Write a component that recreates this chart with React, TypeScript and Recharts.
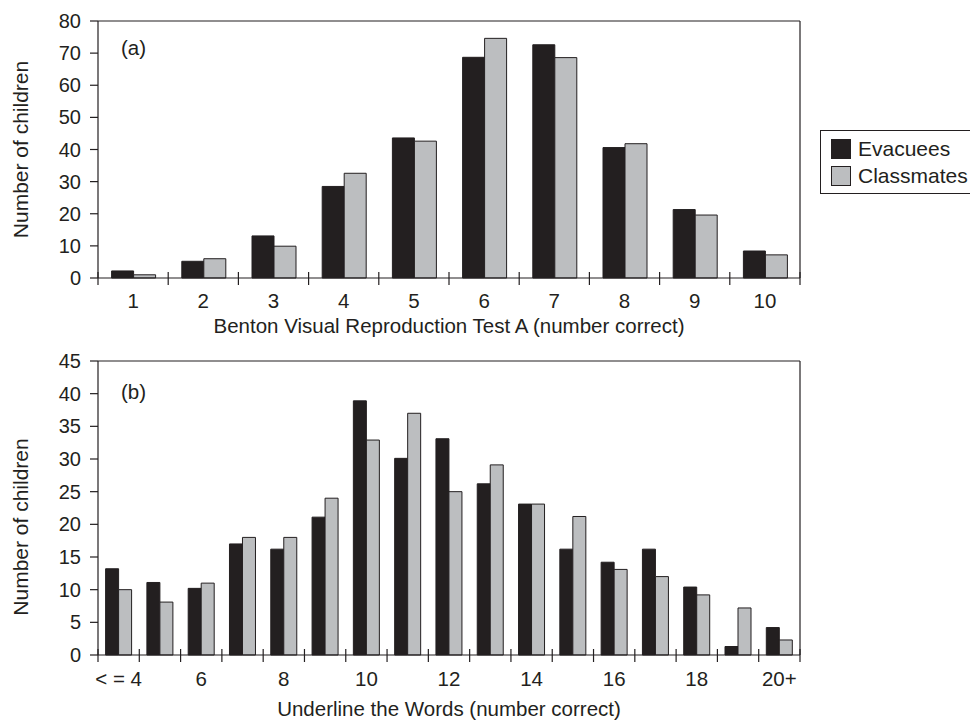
import React from "react";
import { BarChart, Bar, XAxis, YAxis, Legend } from "recharts";

const FONT = '"Liberation Sans", Arial, Helvetica, sans-serif';
const INK = "#231f20";
const GRAY = "#bcbec0";

// Panel (a): Benton Visual Reproduction Test A
const bentonCategories = ["1", "2", "3", "4", "5", "6", "7", "8", "9", "10"];
const bentonEvacuees = [2.2, 5.2, 13.1, 28.5, 43.6, 68.7, 72.6, 40.6, 21.3, 8.4];
const bentonClassmates = [1.0, 6.0, 9.9, 32.6, 42.6, 74.6, 68.6, 41.8, 19.6, 7.2];
const bentonYTicks = [0, 10, 20, 30, 40, 50, 60, 70, 80];

// Panel (b): Underline the Words
const wordsCategories = ["< = 4", "5", "6", "7", "8", "9", "10", "11", "12", "13", "14", "15", "16", "17", "18", "19", "20+"];
const wordsEvacuees = [13.2, 11.1, 10.2, 17.0, 16.2, 21.1, 38.9, 30.1, 33.1, 26.2, 23.1, 16.2, 14.2, 16.2, 10.4, 1.3, 4.2];
const wordsClassmates = [10.0, 8.1, 11.0, 18.0, 18.0, 24.0, 32.9, 37.0, 25.0, 29.1, 23.1, 21.2, 13.1, 12.0, 9.2, 7.2, 2.3];
const wordsYTicks = [0, 5, 10, 15, 20, 25, 30, 35, 40, 45];

const seriesNames = ["Evacuees", "Classmates"];
const seriesColors = [INK, GRAY];

// slot = position of the category on the boundary axis (category i spans slot i .. i+1)
const bentonData = bentonCategories.map((c, i) => ({ cat: c, slot: i, evac: bentonEvacuees[i], cls: bentonClassmates[i] }));
const wordsData = wordsCategories.map((c, i) => ({ cat: c, slot: i, evac: wordsEvacuees[i], cls: wordsClassmates[i] }));

// boundaries at integers, labels at half-steps
const makeTicks = (n: number) => {
  const t: number[] = [];
  for (let i = 0; i <= n; i++) {
    t.push(i);
    if (i < n) t.push(i + 0.5);
  }
  return t;
};

function BoundaryTick(props: any) {
  const { x, y, payload, labels, every, labelDy } = props;
  const v = payload.value;
  if (Number.isInteger(v)) {
    return <line x1={x} x2={x} y1={y - 6} y2={y + 7} stroke={INK} strokeWidth={1.2} />;
  }
  const idx = Math.floor(v);
  if (idx % every !== 0) return <g />;
  return (
    <text x={x} y={y + labelDy} textAnchor="middle" fill={INK} fontSize={20.5} fontFamily={FONT}>
      {labels[idx]}
    </text>
  );
}

function yTitle(shift: number) {
  return (props: any) => {
    const vb = props.viewBox || {};
    const cx = (vb.x ?? 8) + 20;
    const cy = (vb.y ?? 0) + (vb.height ?? 0) / 2 + shift;
    return (
      <text
        x={cx}
        y={cy}
        transform={`rotate(-90, ${cx}, ${cy})`}
        textAnchor="middle"
        fill={INK}
        fontSize={21}
        fontFamily={FONT}
      >
        Number of children
      </text>
    );
  };
}

function LegendBox() {
  return (
    <div
      style={{
        border: `1px solid ${INK}`,
        background: "#fff",
        padding: "4px 10px",
        width: 170,
        fontFamily: FONT,
        fontSize: 21,
        color: INK,
      }}
    >
      {seriesNames.map((name, i) => (
        <div key={name} style={{ display: "flex", alignItems: "center", height: 27 }}>
          <span
            style={{
              display: "inline-block",
              width: 18,
              height: 18,
              background: seriesColors[i],
              border: `1px solid ${INK}`,
              marginRight: 7,
            }}
          />
          <span>{name}</span>
        </div>
      ))}
    </div>
  );
}

const axisLineStyle = { stroke: INK, strokeWidth: 1.2 };
const yTickStyle = { fontSize: 20, fill: INK, fontFamily: FONT };

export default function App() {
  return (
    <div
      style={{
        position: "absolute",
        left: 0,
        top: 0,
        width: 970,
        height: 721,
        overflow: "hidden",
        background: "#fff",
        fontFamily: FONT,
      }}
    >
      <BarChart
        width={970}
        height={340}
        data={bentonData}
        margin={{ top: 20, right: 169, bottom: 0, left: 8 }}
        barCategoryGap={13.6}
        barGap={0}
      >
        <XAxis
          xAxisId="num"
          dataKey="slot"
          type="number"
          domain={[0, bentonCategories.length]}
          allowDataOverflow
          ticks={makeTicks(bentonCategories.length)}
          interval={0}
          tickSize={0}
          tickMargin={0}
          tickLine={false}
          axisLine={axisLineStyle}
          height={62}
          tick={<BoundaryTick labels={bentonCategories} every={1} labelDy={30} />}
          label={{
            value: "Benton Visual Reproduction Test A (number correct)",
            position: "insideBottom",
            offset: 7,
            fill: INK,
            fontSize: 20.5,
            fontFamily: FONT,
          }}
        />
        <XAxis xAxisId="cat" dataKey="cat" hide height={0} />
        <XAxis xAxisId="top" orientation="top" type="number" domain={[0, 1]} allowDataOverflow ticks={[0, 1]} tick={false} tickLine={false} axisLine={axisLineStyle} height={1} />
        <YAxis
          yAxisId="left"
          type="number"
          domain={[0, 80]}
          ticks={bentonYTicks}
          interval={0}
          width={90}
          tickSize={8}
          tickMargin={9}
          tick={yTickStyle}
          tickLine={{ stroke: INK, strokeWidth: 1.2 }}
          axisLine={axisLineStyle}
          label={yTitle(0)}
        />
        <YAxis yAxisId="right" orientation="right" type="number" domain={[0, 1]} allowDataOverflow ticks={[0, 1]} width={1} tick={false} tickLine={false} axisLine={axisLineStyle} />
        <Bar xAxisId="cat" yAxisId="left" dataKey="evac" name={seriesNames[0]} fill={seriesColors[0]} stroke={INK} strokeWidth={1} isAnimationActive={false} />
        <Bar xAxisId="cat" yAxisId="left" dataKey="cls" name={seriesNames[1]} fill={seriesColors[1]} stroke={INK} strokeWidth={1} isAnimationActive={false} />
        <Legend
          layout="vertical"
          align="center"
          verticalAlign="middle"
          wrapperStyle={{ left: 820, top: 130, width: 200 }}
          content={<LegendBox />}
        />
        <text x={121} y={55} fill={INK} fontSize={20.5} fontFamily={FONT}>
          (a)
        </text>
      </BarChart>

      <div style={{ position: "absolute", left: 0, top: 340 }}>
        <BarChart
          width={970}
          height={381}
          data={wordsData}
          margin={{ top: 20, right: 169, bottom: 0, left: 8 }}
          barCategoryGap={7.6}
          barGap={0}
        >
          <XAxis
            xAxisId="num"
            dataKey="slot"
            type="number"
            domain={[0, wordsCategories.length]}
            allowDataOverflow
            ticks={makeTicks(wordsCategories.length)}
            interval={0}
            tickSize={0}
            tickMargin={0}
            tickLine={false}
            axisLine={axisLineStyle}
            height={66}
            tick={<BoundaryTick labels={wordsCategories} every={2} labelDy={31} />}
            label={{
              value: "Underline the Words (number correct)",
              position: "insideBottom",
              offset: 5,
              fill: INK,
              fontSize: 20.5,
              fontFamily: FONT,
            }}
          />
          <XAxis xAxisId="cat" dataKey="cat" hide height={0} />
          <XAxis xAxisId="top" orientation="top" type="number" domain={[0, 1]} allowDataOverflow ticks={[0, 1]} tick={false} tickLine={false} axisLine={axisLineStyle} height={1} />
          <YAxis
            yAxisId="left"
            type="number"
            domain={[0, 45]}
            ticks={wordsYTicks}
            interval={0}
            width={90}
            tickSize={8}
            tickMargin={9}
            tick={yTickStyle}
            tickLine={{ stroke: INK, strokeWidth: 1.2 }}
            axisLine={axisLineStyle}
            label={yTitle(19)}
          />
          <YAxis yAxisId="right" orientation="right" type="number" domain={[0, 1]} allowDataOverflow ticks={[0, 1]} width={1} tick={false} tickLine={false} axisLine={axisLineStyle} />
          <Bar xAxisId="cat" yAxisId="left" dataKey="evac" name={seriesNames[0]} fill={seriesColors[0]} stroke={INK} strokeWidth={1} isAnimationActive={false} />
          <Bar xAxisId="cat" yAxisId="left" dataKey="cls" name={seriesNames[1]} fill={seriesColors[1]} stroke={INK} strokeWidth={1} isAnimationActive={false} />
          <text x={121} y={59} fill={INK} fontSize={20.5} fontFamily={FONT}>
            (b)
          </text>
        </BarChart>
      </div>
    </div>
  );
}
